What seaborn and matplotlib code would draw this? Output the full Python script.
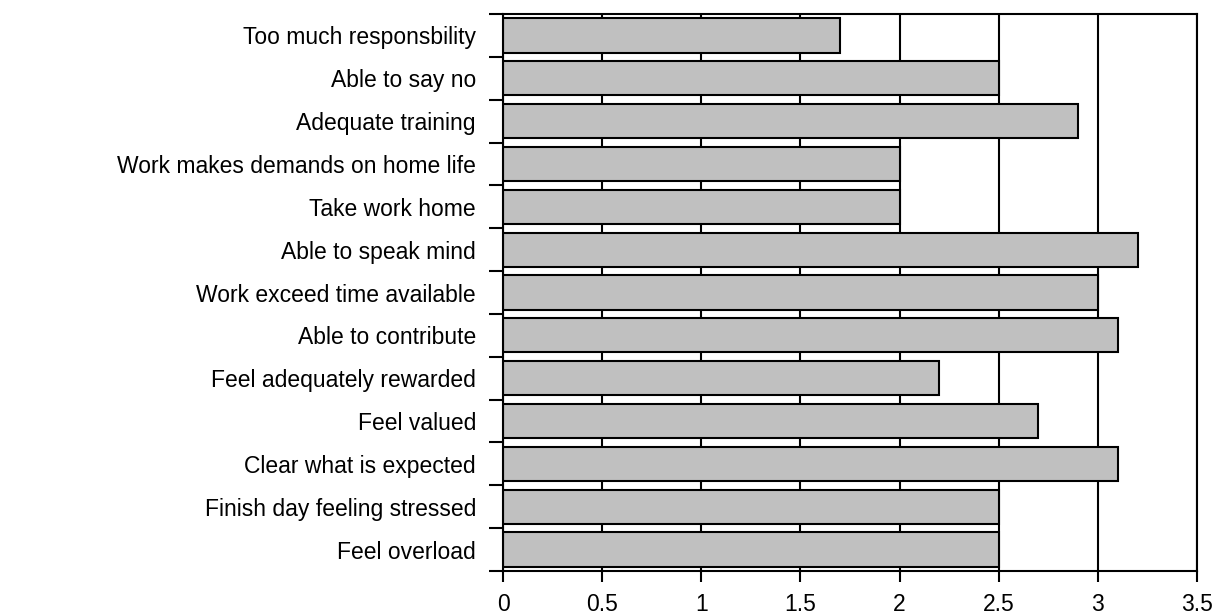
import matplotlib
matplotlib.use("Agg")
import matplotlib.pyplot as plt
import seaborn as sns
import pandas as pd
import numpy as np

categories = [
    "Too much responsbility",
    "Able to say no",
    "Adequate training",
    "Work makes demands on home life",
    "Take work home",
    "Able to speak mind",
    "Work exceed time available",
    "Able to contribute",
    "Feel adequately rewarded",
    "Feel valued",
    "Clear what is expected",
    "Finish day feeling stressed",
    "Feel overload",
]
values = [1.7, 2.5, 2.9, 2.0, 2.0, 3.2, 3.0, 3.1, 2.2, 2.7, 3.1, 2.5, 2.5]
xticks = [0, 0.5, 1, 1.5, 2, 2.5, 3, 3.5]
xticklabels = ["0", "0.5", "1", "1.5", "2", "2.5", "3", "3.5"]

sns.set_theme(style="white")
plt.rcParams["font.family"] = ["Liberation Sans", "DejaVu Sans"]

df = pd.DataFrame({"category": categories, "value": values})

fig = plt.figure(figsize=(12.18, 6.14), dpi=100)
ax = fig.add_axes([503 / 1218, 1 - 571 / 614, (1197 - 503) / 1218, (571 - 14) / 614])

sns.barplot(data=df, x="value", y="category", orient="h", color="#c0c0c0",
            edgecolor="black", linewidth=1.5, width=0.8, saturation=1, ax=ax)

ax.set_xlim(0, 3.5)
ax.set_ylim(len(categories) - 0.5, -0.5)
ax.set_xticks(xticks)
ax.set_xticklabels(xticklabels)
ax.set_xlabel("")
ax.set_ylabel("")

ax.grid(axis="x", color="black", linewidth=1.5)
ax.grid(axis="y", visible=False)
ax.set_axisbelow(True)

ax.set_yticks(np.arange(-0.5, len(categories), 1.0), minor=True)
ax.tick_params(axis="y", which="major", length=0, pad=19.5, labelsize=16.5, colors="black")
ax.tick_params(axis="y", which="minor", length=10, width=1.5, direction="out", left=True, color="black")
ax.tick_params(axis="x", which="major", length=8, width=1.5, direction="out", bottom=True,
               pad=8, labelsize=16.5, colors="black")

for s in ["left", "bottom", "top", "right"]:
    ax.spines[s].set_visible(True)
    ax.spines[s].set_color("black")
    ax.spines[s].set_linewidth(1.5)

fig.savefig("out.png", dpi=100, facecolor="white")
